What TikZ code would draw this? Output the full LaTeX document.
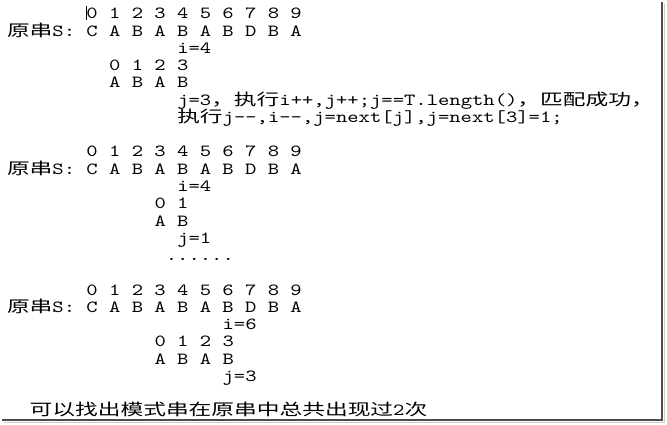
\documentclass[tikz,border=0pt]{standalone}
\usepackage{fontspec}
\newfontfamily\mono[Extension=.otf,FakeStretch=1.27,Ligatures=TeXOff]{lmmono10-regular}
\newfontfamily\cjk[FakeStretch=1.42]{Noto Sans CJK SC}
\newcommand\zh[1]{{\cjk\fontsize{16}{16}\selectfont #1}}
\begin{document}
\begin{tikzpicture}[x=1pt,y=-1pt,
    txt/.style={anchor=base west,inner sep=0pt,font=\mono\fontsize{17}{17}\selectfont\frenchspacing},
    frame/.style={line width=1.6pt,color=black!70}]
  \useasboundingbox (0,0) rectangle (667,425);
  \draw[line width=1pt,color=black!20] (4,422.5) -- (664.5,422.5) -- (664.5,4);
  \draw[frame] (2,420) -- (662,420) -- (662,2);
  \draw[line width=1pt] (86.2,6.5) -- (86.2,20.5);
  \begin{scope}[x=11.35pt,y=-17.25pt,shift={(6.8pt,-19pt)}]
    \foreach \r in {0,8,16} {
      \node[txt] (idx\r) at (7,\r) {0 1 2 3 4 5 6 7 8 9};
      \node[txt] (src\r) at (0,\r+1) {\zh{原串}S: C A B A B A B D B A};
    }
    \foreach \c/\r/\t/\n in {15/2/{i=4}/ione, 9/3/{0 1 2 3}/pidxone, 9/4/{A B A B}/patone,
        15/10/{i=4}/itwo, 13/11/{0 1}/pidxtwo, 13/12/{A B}/pattwo, 15/13/{j=1}/jtwo,
        14/14/{......}/dots,
        19/18/{i=6}/ithree, 13/19/{0 1 2 3}/pidxthree, 13/20/{A B A B}/patthree, 19/21/{j=3}/jthree} {
      \node[txt] (\n) at (\c,\r) {\t};
    }
    \node[txt] (stepone) at (15,5) {j=3\zh{，执行}i++,j++;j==T.length()\zh{，匹配成功，}};
    \node[txt] (steptwo) at (15,6) {\zh{执行}j--,i--,j=next[j],j=next[3]=1;};
    \node[txt] (total) at (2,23) {\zh{可以找出模式串在原串中总共出现过}2\zh{次}};
  \end{scope}
\end{tikzpicture}
\end{document}
